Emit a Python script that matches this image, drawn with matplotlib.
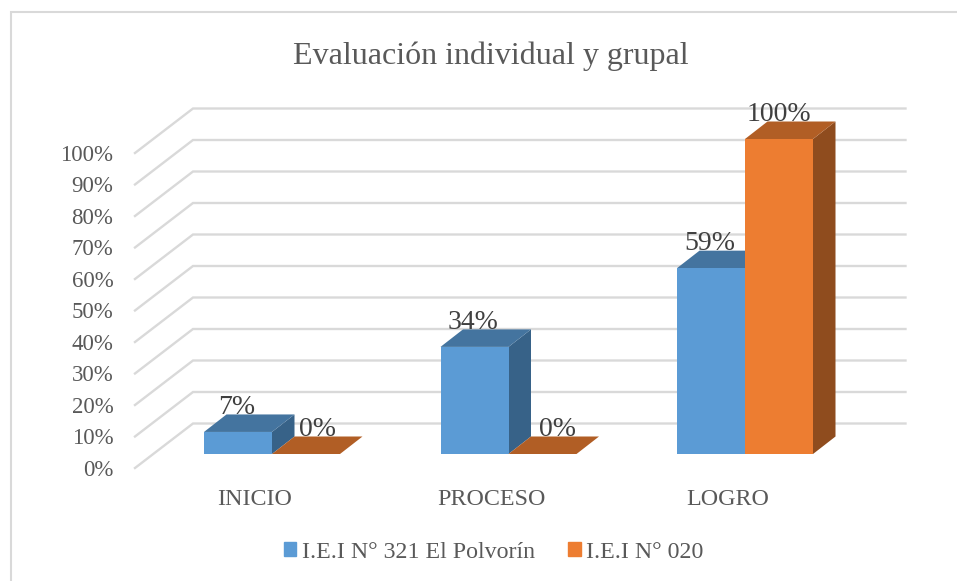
#!/usr/bin/env python3
"""3D-looking bar chart of the group evaluation, drawn on a plain 2D axes."""
import matplotlib

matplotlib.use("Agg")
import matplotlib.pyplot as plt
from matplotlib.lines import Line2D
from matplotlib.patches import Patch, Polygon

categories = ["INICIO", "PROCESO", "LOGRO"]
series_a = [7, 34, 59]
series_b = [0, 0, 100]
name_a = "I.E.I N° 321 El Polvorín"
name_b = "I.E.I N° 020"
percent_ticks = list(range(0, 101, 10))

W, H = 957, 581
PX_X = 236.5  # pixels per category
PX_Y = 3.15  # pixels per percent
BAR_W = 68 / PX_X
DX = 22.5 / PX_X  # bar depth
DY = 17.5 / PX_Y
WALL_DX = 58 / PX_X  # side wall depth
WALL_DY = 44.5 / PX_Y
Y_MIN = -14 / PX_Y  # front edge of the floor

GRID = "#d9d9d9"
TEXT = "#595959"
LABEL = "#404040"
BLUE = ("#5b9bd5", "#44749f", "#376288")
ORANGE = ("#ed7d31", "#b15e25", "#8f4c1e")

plt.rcParams["font.family"] = ["Liberation Serif", "DejaVu Serif"]

fig = plt.figure(figsize=(W / 100, H / 100), dpi=100)
# only the top and left edges of the chart border are in the crop
fig.add_artist(Line2D([10.5 / W, 10.5 / W, 1], [0, 1 - 12 / H, 1 - 12 / H], color=GRID, lw=1.5,
                      solid_joinstyle="miter"))

# axes frame: left end of the side wall to right end of the back wall
left, right, bottom, top = 135, 905.5, 468, 100
ax = fig.add_axes([left / W, 1 - bottom / H, (right - left) / W, (bottom - top) / H])
ax.set_xlim((left - 272) / PX_X, (right - 272) / PX_X)
ax.set_ylim(Y_MIN, Y_MIN + (bottom - top) / PX_Y)
for s in ax.spines.values():
    s.set_visible(False)
ax.patch.set_alpha(0)

x0 = ax.get_xlim()[0]
x1 = ax.get_xlim()[1]
for v in percent_ticks:
    ax.plot([x0, x0 + WALL_DX, x1], [Y_MIN + v, Y_MIN + v + WALL_DY, Y_MIN + v + WALL_DY],
            color=GRID, lw=1.7, zorder=1, solid_joinstyle="miter", clip_on=False)


def bar3d(x, v, cols, z):
    ax.bar(x, v, BAR_W, align="edge", color=cols[0], zorder=z + 0.2)
    ax.add_patch(Polygon([(x, v), (x + BAR_W, v), (x + BAR_W + DX, v + DY), (x + DX, v + DY)],
                         fc=cols[1], ec="none", zorder=z + 0.1))
    ax.add_patch(Polygon([(x + BAR_W, 0), (x + BAR_W + DX, DY), (x + BAR_W + DX, v + DY), (x + BAR_W, v)],
                         fc=cols[2], ec="none", zorder=z))


for i in range(len(categories)):
    bar3d(i - BAR_W, series_a[i], BLUE, 2)
    bar3d(i, series_b[i], ORANGE, 3)

# data labels sit just above the top face, zero labels are pushed right
zero_shift = [0.047, 0.062, 0]
for i in range(len(categories)):
    ax.text(i - BAR_W / 2 - 0.005, series_a[i] + 24.5 / PX_Y, f"{series_a[i]}%", ha="center",
            va="center", fontsize=20, color=LABEL, zorder=5)
    ax.text(i + BAR_W / 2 + zero_shift[i], series_b[i] + 24.5 / PX_Y, f"{series_b[i]}%", ha="center",
            va="center", fontsize=20, color=LABEL, zorder=5)

ax.set_yticks([Y_MIN + v for v in percent_ticks], [f"{v}%" for v in percent_ticks])
# category labels are centred a little left of the bar pairs
ax.set_xticks([i - 17 / PX_X for i in range(len(categories))], categories)
ax.tick_params(axis="y", length=0, pad=15.5, labelsize=16.5, labelcolor=TEXT)
ax.tick_params(axis="x", length=0, pad=15, labelsize=17.3, labelcolor=TEXT)

fig.text(490.5 / W, 1 - 56.5 / H, "Evaluación individual y grupal", ha="center", va="center",
         fontsize=23, color=TEXT)

handles = [Patch(color=BLUE[0], label=name_a), Patch(color=ORANGE[0], label=name_b)]
fig.legend(handles=handles, loc="center", bbox_to_anchor=(493.5 / W, 1 - 552 / H), ncol=2,
           frameon=False, fontsize=17.2, labelcolor=TEXT, handlelength=0.52, handleheight=0.52,
           handletextpad=0.22, columnspacing=1.4, borderpad=0, borderaxespad=0)

fig.savefig("out.png", dpi=100)
